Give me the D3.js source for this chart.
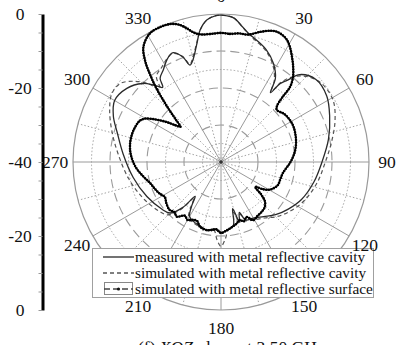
<!DOCTYPE html>
<html>
<head>
<meta charset="utf-8">
<script src="https://cdn.jsdelivr.net/npm/d3@7"></script>
<style>
  html, body { margin: 0; padding: 0; background: #fff; }
  svg { display: block; font-family: "Liberation Serif", "Times New Roman", serif; }
</style>
</head>
<body>
<svg id="chart" width="408" height="345"></svg>
<script>
// Angle labels around the rim (degrees, clockwise from top)
const angleLabels = [0, 30, 60, 90, 120, 150, 180, 210, 240, 270, 300, 330];
// Grid rings (dB)
const gridDb = [-35, -30, -25, -20, -15, -10, -5];
// Left scale tick values (signed distance from centre, in dB)
const scaleTicks = [-40, -35, -30, -25, -20, -15, -10, -5, 0, 5, 10, 15, 20, 25, 30, 35, 40];
const seriesNames = [
  "measured with metal reflective cavity",
  "simulated with metal reflective cavity",
  "simulated with metal reflective surface"
];

// Measured, metal reflective cavity
const measuredAngles = [0, 5, 9, 12, 16, 22, 28, 33, 35.5, 37, 39, 42, 49, 58, 67, 78, 90, 102, 115, 125, 134, 142, 150, 157, 160, 163, 166, 169, 175, 180, 186, 192, 198, 205, 210, 214, 217, 220, 225, 231, 245, 260, 275, 286, 293, 300, 308, 315, 319, 322, 324, 328, 332, 336, 340, 342.3, 344.6, 348.6, 351, 354.4, 358];
const measuredDb = [-0.3, -0.9, -3.0, -4.4, -5.6, -7.3, -9.8, -13.0, -17.0, -13.5, -11.6, -8.2, -6.0, -6.3, -8.1, -10.3, -12.7, -14.3, -16.0, -17.8, -19.5, -21.3, -22.5, -23.0, -25.5, -23.0, -27.0, -22.5, -21.5, -21.0, -21.8, -21.2, -21.8, -22.3, -23.0, -26.0, -28.4, -24.0, -20.5, -19.6, -17.9, -15.9, -13.4, -10.8, -8.4, -6.8, -7.7, -10.0, -12.5, -14.4, -12.0, -10.6, -8.8, -7.7, -9.8, -12.5, -11.4, -7.2, -3.9, -1.4, -0.4];

// Simulated, metal reflective cavity
const cavityAngles = [0, 5, 9, 12, 16, 22, 28, 33, 35.5, 37, 40, 45, 52, 61, 70, 80, 90, 102, 115, 125, 134, 142, 150, 157, 160, 163, 166, 169, 174, 177, 180, 183, 186, 192, 198, 205, 210, 214, 217, 220, 225, 231, 245, 260, 275, 286, 295, 302, 308, 313, 317, 320, 323, 328, 332, 336, 340, 342.3, 344.6, 348.6, 351, 354.4, 358];
const cavityDb = [-0.3, -0.9, -3.0, -4.6, -5.9, -7.6, -10.2, -13.5, -16.5, -13.0, -10.0, -7.3, -5.5, -5.4, -7.2, -9.7, -11.8, -13.4, -15.2, -17.0, -18.8, -20.8, -22.0, -22.8, -25.0, -22.8, -26.0, -22.5, -21.5, -19.0, -17.2, -19.0, -21.5, -21.0, -21.5, -22.0, -22.5, -25.5, -28.0, -23.5, -19.8, -18.7, -16.8, -14.6, -12.0, -9.3, -6.8, -5.2, -5.5, -8.0, -11.0, -14.4, -11.0, -9.8, -8.6, -7.9, -9.6, -12.3, -11.0, -7.0, -3.9, -1.4, -0.4];

// Simulated, metal reflective surface
const surfaceAngles = [0, 4, 8, 12, 16.7, 21, 23.3, 26, 28.4, 31, 34, 37, 40.3, 42.6, 43.5, 45, 47, 53, 59, 64, 69, 75, 81, 86, 91, 100, 106, 112, 116, 120, 123, 126, 129, 132, 136, 141, 146, 151, 155, 159, 162, 166, 170, 175, 180, 184, 187, 192, 198, 202, 206, 210, 214, 219, 223, 227, 233, 238, 243, 248, 253.5, 260, 267, 275, 282, 288, 293, 297, 300, 303, 306, 309, 311, 313, 315, 317, 319, 321, 323, 326, 331, 336, 340, 343, 345.5, 348, 351, 355];
const surfaceDb = [-5.1, -5.3, -4.9, -4.8, -3.3, -2.0, -1.7, -1.9, -2.5, -3.8, -5.7, -7.6, -9.9, -12.4, -16.0, -18.6, -19.4, -18.5, -18.2, -18.2, -18.5, -19.0, -19.7, -20.5, -21.4, -23.0, -23.3, -23.4, -24.0, -25.0, -26.5, -28.6, -26.0, -24.0, -23.0, -22.6, -22.4, -22.0, -23.6, -22.8, -23.5, -22.8, -22.2, -21.5, -20.8, -21.8, -21.5, -21.2, -21.6, -22.8, -22.6, -21.9, -22.5, -21.0, -21.5, -21.0, -21.5, -22.1, -21.3, -20.7, -20.0, -18.5, -16.8, -15.5, -14.9, -14.8, -15.0, -15.4, -16.5, -18.9, -21.5, -24.3, -25.5, -23.5, -20.5, -17.0, -13.0, -9.5, -6.0, -2.5, -0.3, 0.0, -0.3, -1.2, -2.6, -4.2, -5.1, -5.3];

const cx = 221, cy = 162, R = 148;
const svg = d3.select("#chart");
const rad = d3.scaleLinear().domain([-40, 0]).range([0, R]);
const toRad = a => a * Math.PI / 180;
const gridColor = "#9a9a9a";
const serif = "'Liberation Serif', 'Times New Roman', serif";

const plot = svg.append("g").attr("transform", `translate(${cx},${cy})`);

// Rings
plot.selectAll("circle.ring")
  .data(gridDb)
  .join("circle")
  .attr("class", "ring")
  .attr("r", d => rad(d))
  .attr("fill", "none")
  .attr("stroke", gridColor)
  .attr("stroke-width", d => d % 10 === 0 ? 1.1 : 0.9)
  .attr("stroke-dasharray", d => d % 10 === 0 ? "9,5" : "1.5,2");

// Spokes
const spokes = d3.range(0, 360, 15);
plot.selectAll("line.spoke")
  .data(spokes)
  .join("line")
  .attr("class", "spoke")
  .attr("x1", 0).attr("y1", 0)
  .attr("x2", d => rad(0) * Math.sin(toRad(d)))
  .attr("y2", d => -rad(0) * Math.cos(toRad(d)))
  .attr("stroke", gridColor)
  .attr("stroke-width", d => d % 30 === 0 ? 1 : 0.9)
  .attr("stroke-dasharray", d => d % 30 === 0 ? null : "1.5,2");

// Outer rim
plot.append("circle")
  .attr("r", rad(0))
  .attr("fill", "none")
  .attr("stroke", gridColor)
  .attr("stroke-width", 1.2);

// Pattern traces
const radial = d3.lineRadial()
  .angle(d => toRad(d[0]))
  .radius(d => rad(d[1]))
  .curve(d3.curveCatmullRomClosed.alpha(0.5));

const zip = (a, b) => a.map((v, i) => [v, b[i]]);

plot.append("path")
  .datum(zip(cavityAngles, cavityDb))
  .attr("d", radial)
  .attr("fill", "none")
  .attr("stroke", "#555")
  .attr("stroke-width", 1.2)
  .attr("stroke-dasharray", "4,3");

plot.append("path")
  .datum(zip(measuredAngles, measuredDb))
  .attr("d", radial)
  .attr("fill", "none")
  .attr("stroke", "#2a2a2a")
  .attr("stroke-width", 1.3);

const surfaceData = zip(surfaceAngles, surfaceDb);
plot.append("path")
  .datum(surfaceData)
  .attr("d", radial)
  .attr("fill", "none")
  .attr("stroke", "#111")
  .attr("stroke-width", 1.4);
plot.append("path")
  .datum(surfaceData)
  .attr("d", radial)
  .attr("fill", "none")
  .attr("stroke", "#000")
  .attr("stroke-width", 2.6)
  .attr("stroke-linecap", "round")
  .attr("stroke-dasharray", "0,2.6");

// Centre dot
plot.append("circle").attr("r", 1.8).attr("fill", "#333");

// Legend
const leg = svg.append("g");
leg.append("rect")
  .attr("x", 92.5).attr("y", 248.5)
  .attr("width", 281).attr("height", 49)
  .attr("fill", "#fff")
  .attr("stroke", "#a0a0a0")
  .attr("stroke-width", 1);
const rowY = [257, 273, 289];
leg.append("line")
  .attr("x1", 103).attr("x2", 134).attr("y1", rowY[0]).attr("y2", rowY[0])
  .attr("stroke", "#444").attr("stroke-width", 1.5);
leg.append("line")
  .attr("x1", 103).attr("x2", 134).attr("y1", rowY[1]).attr("y2", rowY[1])
  .attr("stroke", "#555").attr("stroke-width", 1.4).attr("stroke-dasharray", "4,3");
leg.append("rect")
  .attr("x", 104.5).attr("y", rowY[2] - 6.5).attr("width", 28).attr("height", 12)
  .attr("fill", "none").attr("stroke", "#888").attr("stroke-width", 1);
leg.append("line")
  .attr("x1", 104).attr("x2", 133).attr("y1", rowY[2]).attr("y2", rowY[2])
  .attr("stroke", "#444").attr("stroke-width", 1.4).attr("stroke-dasharray", "6,3");
leg.append("circle").attr("cx", 118.5).attr("cy", rowY[2]).attr("r", 1.6).attr("fill", "#111");
leg.selectAll("text.leg")
  .data(seriesNames)
  .join("text")
  .attr("class", "leg")
  .attr("x", 135)
  .attr("y", (d, i) => rowY[i] + 5)
  .attr("font-family", serif)
  .attr("font-size", 15.3)
  .attr("fill", "#111")
  .text(d => d);

// Angle labels
const labelR = 166;
svg.append("g").selectAll("text")
  .data(angleLabels)
  .join("text")
  .attr("x", d => cx + labelR * Math.sin(toRad(d)))
  .attr("y", d => cy - labelR * Math.cos(toRad(d)))
  .attr("dy", "0.35em")
  .attr("text-anchor", "middle")
  .attr("font-family", serif)
  .attr("font-size", 17.5)
  .attr("fill", "#111")
  .text(d => d);

// Left dB scale: mirrored about the centre
const axisY = d3.scaleLinear().domain([-40, 40]).range([cy + R, cy - R]);
const axis = d3.axisLeft(axisY)
  .tickValues(scaleTicks)
  .tickSize(4)
  .tickSizeOuter(0)
  .tickFormat(v => v % 20 === 0 ? String(Math.abs(v) - 40) : "");
const ax = svg.append("g").attr("transform", "translate(42.5,0)").call(axis);
ax.select(".domain").attr("stroke", "#000").attr("stroke-width", 3);
ax.selectAll(".tick line").attr("stroke", "#999").attr("stroke-width", 1);
ax.selectAll(".tick text")
  .attr("x", -22.5)
  .attr("text-anchor", "middle")
  .attr("font-family", serif)
  .attr("font-size", 17.5)
  .attr("fill", "#111");

// Caption
const cap = svg.append("text")
  .attr("x", 138).attr("y", 353)
  .attr("font-family", serif)
  .attr("font-size", 17.5)
  .attr("fill", "#111");
cap.append("tspan").text("(f) ");
cap.append("tspan").attr("font-style", "italic").text("XOZ");
cap.append("tspan").text(" plane at 3.50 GHz");
</script>
</body>
</html>
